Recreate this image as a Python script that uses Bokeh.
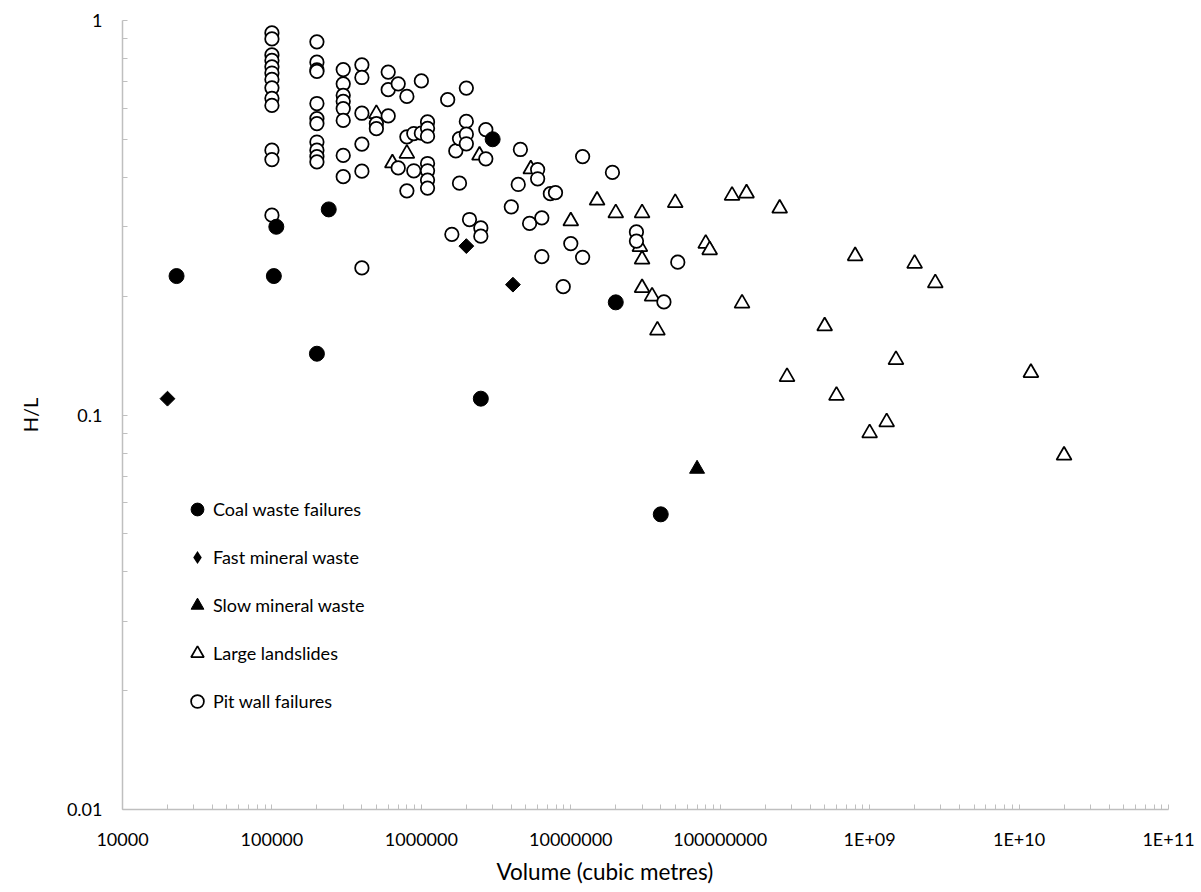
from bokeh.plotting import figure
from bokeh.models import Range1d, FixedTicker, Legend, LegendItem, Title
from bokeh.embed import file_html
from bokeh.resources import INLINE
import numpy as np

# ---------------- data ----------------
coal_vol = [2.3e4, 1.07e5, 1.03e5, 2.4e5, 2.0e5, 2.5e6, 3.0e6, 2.0e7, 4.0e7]
coal_hl = [0.225, 0.30, 0.225, 0.332, 0.143, 0.11, 0.50, 0.193, 0.056]

fast_vol = [2.0e4, 2.0e6, 4.1e6]
fast_hl = [0.11, 0.268, 0.214]

slow_vol = [7.0e7]
slow_hl = [0.073]

large_vol = [5.0e5, 8.0e5, 6.4e5, 2.45e6, 5.4e6, 1.5e7, 1.0e7, 2.0e7, 3.0e7, 5.0e7,
             2.9e7, 3.0e7, 3.0e7, 3.5e7, 3.8e7, 8.0e7, 8.5e7, 1.2e8, 1.5e8, 1.4e8,
             2.5e8, 8.0e8, 2.0e9, 2.75e9, 5.0e8, 1.5e9, 2.8e8, 6.0e8, 1.3e9, 1.0e9,
             1.2e10, 2.0e10]
large_hl = [0.58, 0.46, 0.435, 0.455, 0.42, 0.35, 0.31, 0.325, 0.325, 0.345,
            0.267, 0.248, 0.21, 0.20, 0.164, 0.272, 0.262, 0.36, 0.365, 0.192,
            0.334, 0.253, 0.242, 0.216, 0.168, 0.138, 0.125, 0.112, 0.096, 0.09,
            0.128, 0.079]

pit_vol = ([1e5] * 13 + [2e5] * 11 + [3e5] * 8 + [4e5] * 6 + [5e5] * 2 + [6e5] * 3 +
           [7e5] * 2 + [8e5] * 3 + [8.9e5] * 2 + [1e6] * 2 + [1.1e6] * 7 +
           [1.5e6, 1.6e6, 1.7e6, 1.8e6, 1.8e6] + [2e6] * 4 + [2.1e6, 2.5e6, 2.5e6,
           2.7e6, 2.7e6, 4e6, 4.45e6, 4.6e6, 5.3e6, 6e6, 6e6, 6.4e6, 6.4e6, 7.3e6,
           7.9e6, 8.9e6, 1e7, 1.2e7, 1.2e7, 1.9e7, 2.75e7, 2.75e7, 4.2e7, 5.2e7])
pit_hl = ([0.93, 0.898, 0.818, 0.792, 0.763, 0.736, 0.709, 0.675, 0.635, 0.609, 0.469, 0.444, 0.321] +
          [0.883, 0.784, 0.75, 0.743, 0.616, 0.564, 0.548, 0.492, 0.469, 0.452, 0.438] +
          [0.751, 0.691, 0.646, 0.624, 0.598, 0.558, 0.455, 0.402] +
          [0.772, 0.717, 0.582, 0.486, 0.415, 0.236] +
          [0.548, 0.532] +
          [0.74, 0.668, 0.573] +
          [0.691, 0.423] +
          [0.642, 0.507, 0.37] +
          [0.517, 0.416] +
          [0.703, 0.518] +
          [0.553, 0.533, 0.509, 0.434, 0.416, 0.394, 0.376] +
          [0.63, 0.287, 0.467, 0.502, 0.387] +
          [0.674, 0.555, 0.515, 0.487] +
          [0.313, 0.298, 0.284, 0.529, 0.446, 0.337, 0.384, 0.471, 0.306, 0.419, 0.397,
           0.316, 0.252, 0.364, 0.366, 0.2115, 0.272, 0.452, 0.251, 0.412, 0.291, 0.276,
           0.1935, 0.244])

x_ticks = [1e4, 1e5, 1e6, 1e7, 1e8, 1e9, 1e10, 1e11]
x_tick_labels = ["10000", "100000", "1000000", "10000000", "100000000", "1E+09", "1E+10", "1E+11"]
y_ticks = [0.01, 0.1, 1.0]
y_tick_labels = ["0.01", "0.1", "1"]

# ---------------- figure ----------------
FONT = "Lato"
p = figure(width=1201, height=892, x_axis_type="log", y_axis_type="log",
           x_range=Range1d(1e4, 1e11), y_range=Range1d(0.01, 1),
           output_backend="svg", toolbar_location=None,
           min_border_left=122, min_border_right=33, min_border_top=20, min_border_bottom=82)
p.outline_line_color = None
p.grid.visible = False
p.background_fill_color = "white"
p.border_fill_color = "white"

x_minor = [m * t for t in x_ticks[:-1] for m in range(2, 10)]
y_minor = [m * t for t in y_ticks[:-1] for m in range(2, 10)]
p.xaxis.ticker = FixedTicker(ticks=x_ticks, minor_ticks=x_minor)
p.yaxis.ticker = FixedTicker(ticks=y_ticks, minor_ticks=y_minor)
p.xaxis.major_label_overrides = {t: l for t, l in zip(x_ticks, x_tick_labels)}
p.yaxis.major_label_overrides = {t: l for t, l in zip(y_ticks, y_tick_labels)}

for ax in (p.xaxis, p.yaxis):
    ax.axis_line_color = "#bfbfbf"
    ax.axis_line_width = 1.5
    ax.major_tick_line_color = "#bfbfbf"
    ax.minor_tick_line_color = "#bfbfbf"
    ax.major_tick_in = 5
    ax.major_tick_out = 0
    ax.minor_tick_in = 5
    ax.minor_tick_out = 0
    ax.major_label_text_font = FONT
    ax.major_label_text_font_size = "18px"
    ax.major_label_text_color = "black"
    ax.axis_label_text_font = FONT
    ax.axis_label_text_font_size = "20px"
    ax.axis_label_text_font_style = "normal"
    ax.axis_label_text_color = "black"

p.yaxis.axis_label = "H/L"
p.xaxis.major_label_standoff = 18
p.yaxis.major_label_standoff = 20
p.yaxis.axis_label_standoff = 22

xlabel = Title(text="Volume (cubic metres)", align="left", offset=374,
               vertical_align="top", standoff=11,
               text_font=FONT, text_font_size="22.5px", text_font_style="normal",
               text_color="black")
p.add_layout(xlabel, "below")

# ---------------- glyphs ----------------
r_large = p.scatter(large_vol, large_hl, marker="triangle", size=15,
                    fill_color="white", line_color="black", line_width=1.75)
r_pit = p.scatter(pit_vol, pit_hl, marker="circle", size=13.5,
                  fill_color="white", line_color="black", line_width=1.75)
r_coal = p.scatter(coal_vol, coal_hl, marker="circle", size=15,
                   fill_color="black", line_color="black")
r_fast = p.scatter(fast_vol, fast_hl, marker="square", size=10.5, angle=np.pi / 4,
                   fill_color="black", line_color="black")
r_slow = p.scatter(slow_vol, slow_hl, marker="triangle", size=15,
                   fill_color="black", line_color="black")
# legend swatch for the diamond series (legend ignores marker angle); zero size on the plot
r_fast_key = p.scatter(fast_vol, fast_hl, marker="diamond", size=0,
                       fill_color="black", line_color=None)

legend = Legend(items=[
    LegendItem(label="Coal waste failures", renderers=[r_coal]),
    LegendItem(label="Fast mineral waste", renderers=[r_fast_key]),
    LegendItem(label="Slow mineral waste", renderers=[r_slow]),
    LegendItem(label="Large landslides", renderers=[r_large]),
    LegendItem(label="Pit wall failures", renderers=[r_pit]),
], location=(59, 92), orientation="vertical",
    glyph_width=32, glyph_height=32, label_standoff=0, spacing=16,
    padding=0, margin=0, border_line_color=None, background_fill_alpha=0,
    label_text_font=FONT, label_text_font_size="18px", label_text_color="black")
p.add_layout(legend)

open("out.html", "w").write(file_html(p, INLINE))
